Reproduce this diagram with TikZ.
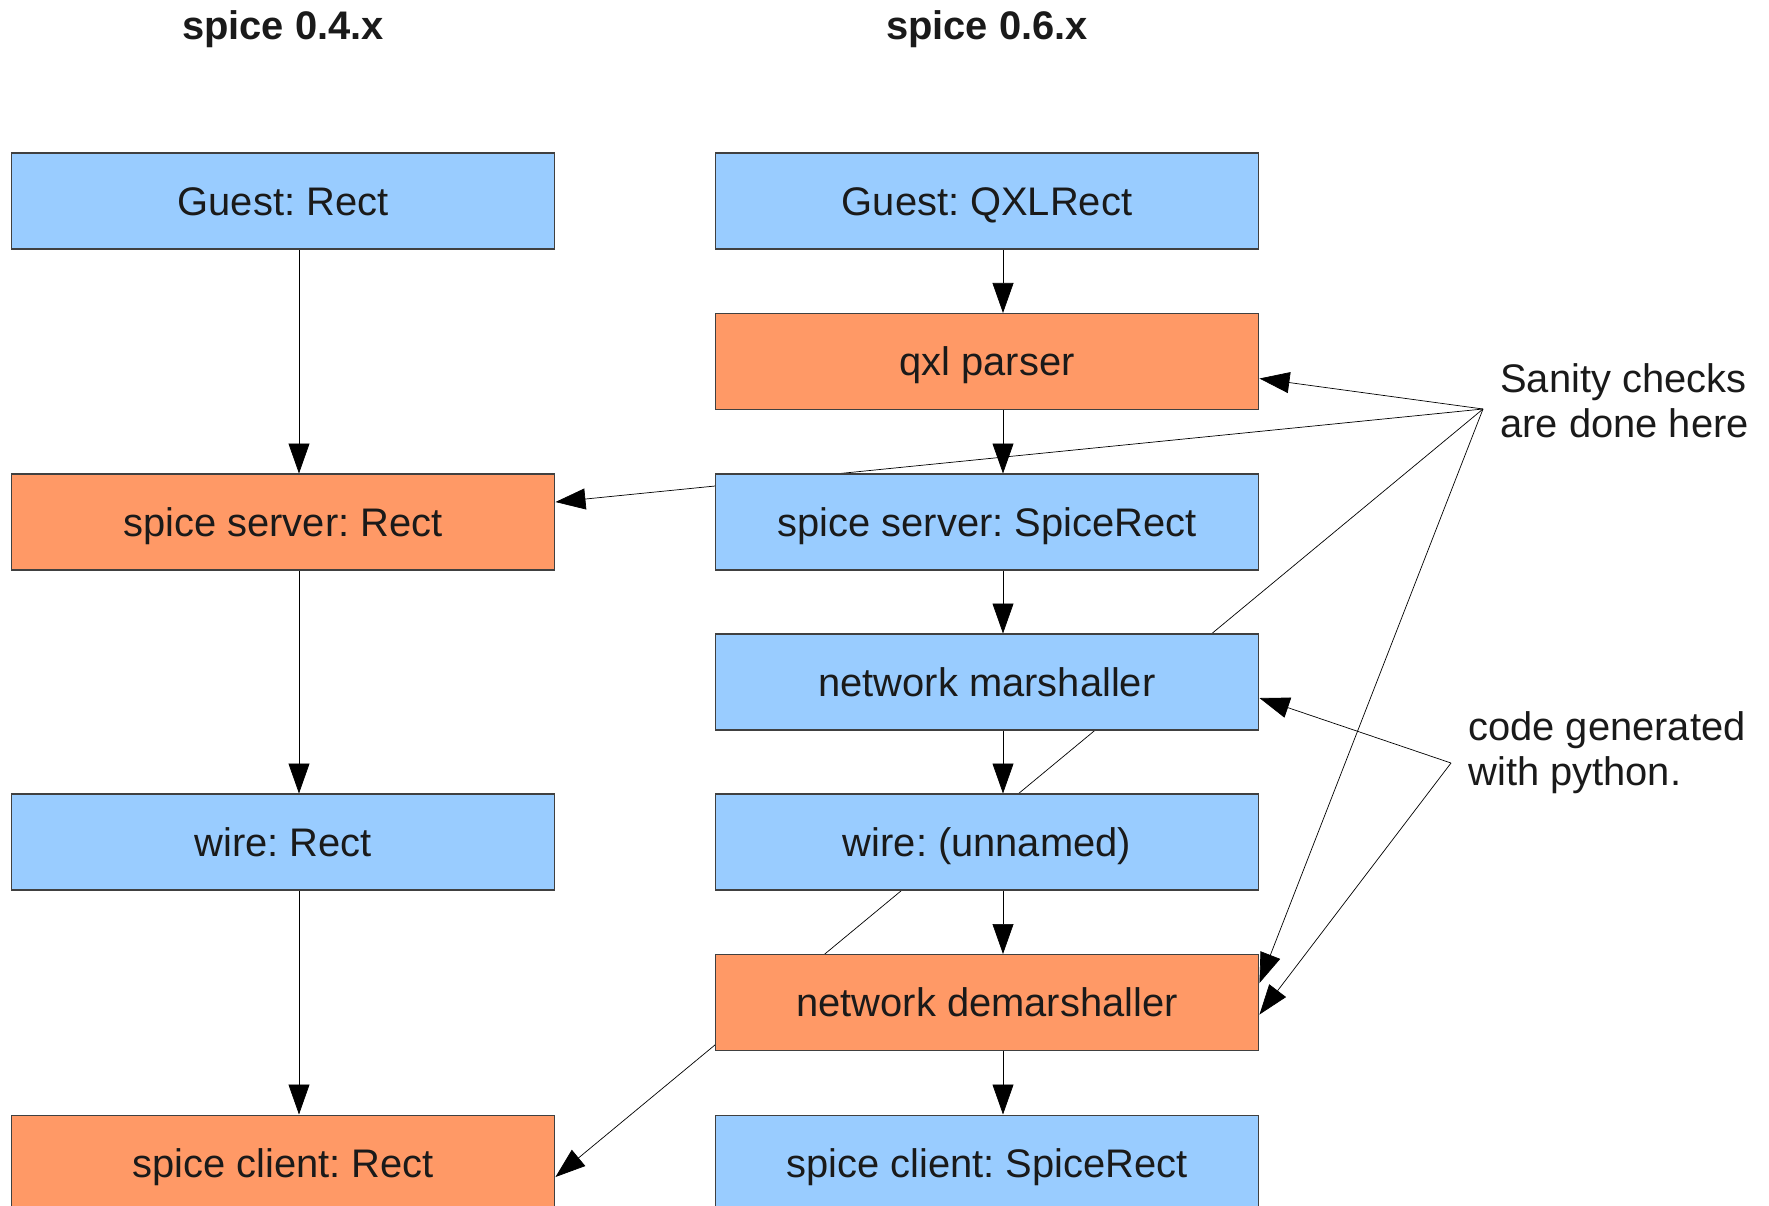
\documentclass[tikz,border=0pt]{standalone}
\usepackage{fontspec}
\setmainfont{Liberation Sans}
\frenchspacing
\usetikzlibrary{arrows.meta,backgrounds}
\definecolor{boxblue}{HTML}{99CCFF}
\definecolor{boxorange}{HTML}{FF9966}
\definecolor{inkgray}{HTML}{1A1A1A}
\tikzset{
  box/.style={draw=black!75,line width=0.6pt,minimum width=10.88cm,minimum height=1.92cm,
    inner sep=0pt,text height=21.25pt,text depth=5pt,
    font=\fontsize{22.7}{26}\selectfont,text=inkgray},
  bluebox/.style={box,fill=boxblue},
  orangebox/.style={box,fill=boxorange},
  note/.style={anchor=west,align=left,inner sep=0pt,
    font=\fontsize{22.7}{25.5}\selectfont,text=inkgray},
  title/.style={font=\bfseries\fontsize{22.7}{26}\selectfont,text=inkgray},
  flow/.style={-{Triangle[length=0.6cm,width=0.42cm]},line width=1.05pt},
}
\begin{document}
\begin{tikzpicture}[x=0.02cm,y=-0.02cm]
      \useasboundingbox (0,0) rectangle (1769,1205);
      \clip (0,0) rectangle (1769,1205);
      \draw
        (283,29) node[title] (t04){spice 0.4.x}
        (987,29) node[title] (t06){spice 0.6.x}
        (283,201) node[bluebox] (guest04){Guest: Rect}
        (283,522) node[orangebox] (server04){spice server: Rect}
        (283,842) node[bluebox] (wire04){wire: Rect}
        (283,1163) node[orangebox] (client04){spice client: Rect}
        (987,201) node[bluebox] (guest06){Guest: QXLRect}
        (987,361.5) node[orangebox] (qxl){qxl parser}
        (987,522) node[bluebox] (server06){spice server: SpiceRect}
        (987,682) node[bluebox] (marsh){network marshaller}
        (987,842) node[bluebox] (wire06){wire: (unnamed)}
        (987,1002.5) node[orangebox] (demarsh){network demarshaller}
        (987,1163) node[bluebox] (client06){spice client: SpiceRect}
        (1500,401) node[note] (sanitytxt){Sanity checks\\are done here}
        (1468,753) node[note] (codetxt){code generated\\with python.};
      \coordinate (sanity) at (1483,409);
      \coordinate (codegen) at (1451,763);
      \begin{scope}[on background layer,flow]
        \draw ([xshift=0.32cm]guest04.south) to ([xshift=0.32cm]server04.north);
        \draw ([xshift=0.32cm]server04.south) to ([xshift=0.32cm]wire04.north);
        \draw ([xshift=0.32cm]wire04.south) to ([xshift=0.32cm]client04.north);
        \draw ([xshift=0.32cm]guest06.south) to ([xshift=0.32cm]qxl.north);
        \draw ([xshift=0.32cm]qxl.south) to ([xshift=0.32cm]server06.north);
        \draw ([xshift=0.32cm]server06.south) to ([xshift=0.32cm]marsh.north);
        \draw ([xshift=0.32cm]marsh.south) to ([xshift=0.32cm]wire06.north);
        \draw ([xshift=0.32cm]wire06.south) to ([xshift=0.32cm]demarsh.north);
        \draw ([xshift=0.32cm]demarsh.south) to ([xshift=0.32cm]client06.north);
        \draw (sanity) to ([yshift=-0.34cm]qxl.east);
        \draw (sanity) to ([yshift=0.4cm]server04.east);
        \draw (sanity) to ([yshift=-0.28cm]client04.east);
        \draw (sanity) to ([yshift=0.39cm]demarsh.east);
        \draw (codegen) to ([yshift=-0.32cm]marsh.east);
        \draw (codegen) to ([yshift=-0.24cm]demarsh.east);
      \end{scope}
    \end{tikzpicture}
\end{document}
